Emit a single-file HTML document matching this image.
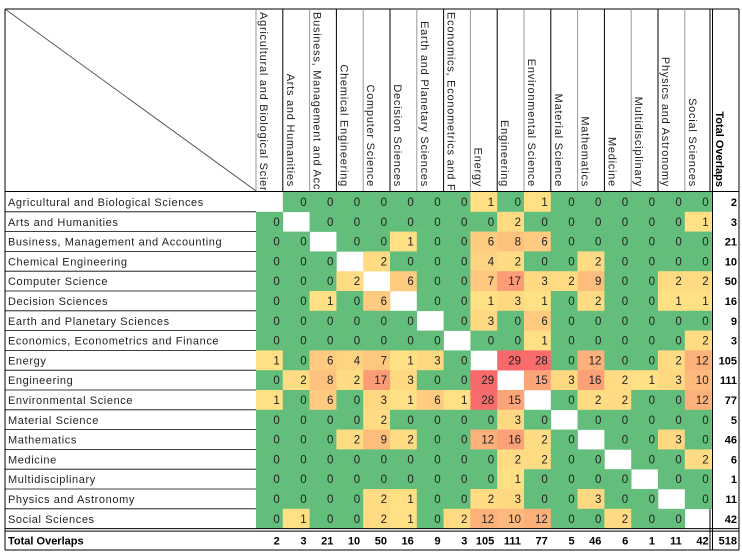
<!DOCTYPE html>
<html><head><meta charset="utf-8"><style>
html,body{margin:0;padding:0;background:#fff;}
svg{display:block;font-family:"Liberation Sans",sans-serif;}
</style></head><body>
<svg id="chart" width="742" height="553" viewBox="0 0 742 553">
<defs><clipPath id="hclip"><rect x="256" y="9" width="456" height="181"/></clipPath></defs>
<g id="g"></g>
</svg>
<script>
const categories=["Agricultural and Biological Sciences","Arts and Humanities","Business, Management and Accounting","Chemical Engineering","Computer Science","Decision Sciences","Earth and Planetary Sciences","Economics, Econometrics and Finance","Energy","Engineering","Environmental Science","Material Science","Mathematics","Medicine","Multidisciplinary","Physics and Astronomy","Social Sciences"];
const r0=[null,0,0,0,0,0,0,0,1,0,1,0,0,0,0,0,0];
const r1=[0,null,0,0,0,0,0,0,0,2,0,0,0,0,0,0,1];
const r2=[0,0,null,0,0,1,0,0,6,8,6,0,0,0,0,0,0];
const r3=[0,0,0,null,2,0,0,0,4,2,0,0,2,0,0,0,0];
const r4=[0,0,0,2,null,6,0,0,7,17,3,2,9,0,0,2,2];
const r5=[0,0,1,0,6,null,0,0,1,3,1,0,2,0,0,1,1];
const r6=[0,0,0,0,0,0,null,0,3,0,6,0,0,0,0,0,0];
const r7=[0,0,0,0,0,0,0,null,0,0,1,0,0,0,0,0,2];
const r8=[1,0,6,4,7,1,3,0,null,29,28,0,12,0,0,2,12];
const r9=[0,2,8,2,17,3,0,0,29,null,15,3,16,2,1,3,10];
const r10=[1,0,6,0,3,1,6,1,28,15,null,0,2,2,0,0,12];
const r11=[0,0,0,0,2,0,0,0,0,3,0,null,0,0,0,0,0];
const r12=[0,0,0,2,9,2,0,0,12,16,2,0,null,0,0,3,0];
const r13=[0,0,0,0,0,0,0,0,0,2,2,0,0,null,0,0,2];
const r14=[0,0,0,0,0,0,0,0,0,1,0,0,0,0,null,0,0];
const r15=[0,0,0,0,2,1,0,0,2,3,0,0,3,0,0,null,0];
const r16=[0,1,0,0,2,1,0,2,12,10,12,0,0,2,0,0,null];
const rows=[r0,r1,r2,r3,r4,r5,r6,r7,r8,r9,r10,r11,r12,r13,r14,r15,r16];
const rowTotals=[2,3,21,10,50,16,9,3,105,111,77,5,46,6,1,11,42];
const colTotals=[2,3,21,10,50,16,9,3,105,111,77,5,46,6,1,11,42];
const grandTotal=518;

const NS="http://www.w3.org/2000/svg";
const g=document.getElementById('g');
const X0=256,CW=26.8,Y0=192,RH=19.8,N=categories.length;
const colX=i=>X0+i*CW, rowY=i=>Y0+i*RH;
const vmax=29;
function color(v){
  if(v===0) return "#63BE7B";
  const t=Math.min(1,(v-1)/(vmax-1));
  const a=[255,224,132],b=[248,105,107];
  return "rgb("+a.map((c,k)=>Math.round(c+(b[k]-c)*t)).join(",")+")";
}
function el(tag,attrs,parent){const e=document.createElementNS(NS,tag);for(const k in attrs)e.setAttribute(k,attrs[k]);(parent||g).appendChild(e);return e;}

const hdr=el('g',{});


el('line',{x1:5,y1:9,x2:739,y2:9,stroke:"#000","stroke-width":1},hdr);
el('line',{x1:5,y1:9,x2:256,y2:191,stroke:"#555","stroke-width":1},hdr);
el('line',{x1:5,y1:9,x2:5,y2:550,stroke:"#000","stroke-width":1},hdr);
const hc=el('g',{"clip-path":"url(#hclip)"},hdr);
categories.forEach((c,i)=>{
  el('line',{x1:colX(i),y1:9,x2:colX(i),y2:191,stroke:(i%2? "#000":"#999"),"stroke-width":1},hdr);
  const t=el('text',{x:0,y:0,"font-size":"11","letter-spacing":"0.75",fill:"#222"},hc);
  
  
  t.textContent=c;
  const len=t.getComputedTextLength();
  if(len>176){
    t.setAttribute('text-anchor','start');
    t.setAttribute('transform',"translate("+(colX(i)+4)+",12) rotate(90)");
  } else {
    t.setAttribute('text-anchor','end');
    t.setAttribute('transform',"translate("+(colX(i)+4)+",187) rotate(90)");
  }
});
el('line',{x1:710,y1:9,x2:710,y2:550,stroke:"#000","stroke-width":1},hdr);
el('line',{x1:712.5,y1:9,x2:712.5,y2:550,stroke:"#000","stroke-width":1},hdr);
el('line',{x1:739,y1:9,x2:739,y2:550,stroke:"#000","stroke-width":1},hdr);
const tt=el('text',{x:0,y:0,transform:"translate(716,187) rotate(90)","text-anchor":"end","font-size":"11","font-weight":"bold",fill:"#000"},hdr);


tt.textContent="Total Overlaps";
el('line',{x1:5,y1:191.5,x2:739,y2:191.5,stroke:"#000","stroke-width":1},hdr);

rows.forEach((row,r)=>{
  const y=rowY(r);
  const lab=el('text',{x:8,y:y+14,"font-size":"11","letter-spacing":"0.6",fill:"#222"});
  
  
  lab.textContent=categories[r];
  if(r>0) el('line',{x1:5,y1:y,x2:256,y2:y,stroke:"#000","stroke-width":0.8});
  row.forEach((v,c)=>{
    if(v===null) return;
    const rc=el('rect',{x:colX(c),y:y,width:CW+0.3,height:RH+0.3,fill:color(v)});
    
    
    const t=el('text',{x:colX(c)+CW-3,y:y+14,"text-anchor":"end","font-size":"11.5",fill:"#222"});
    
    
    t.textContent=v;
  });
  const tv=el('text',{x:737,y:y+14,"text-anchor":"end","font-size":"11","font-weight":"bold",fill:"#000"});
  
  
  tv.textContent=rowTotals[r];
});
const yb=rowY(N);
el('line',{x1:5,y1:yb,x2:739,y2:yb,stroke:"#000","stroke-width":1});
el('line',{x1:5,y1:yb+2.5,x2:739,y2:yb+2.5,stroke:"#000","stroke-width":1});
el('line',{x1:5,y1:550,x2:739,y2:550,stroke:"#000","stroke-width":1});
const tl=el('text',{x:8,y:yb+16,"font-size":"11","font-weight":"bold",fill:"#000"});


tl.textContent="Total Overlaps";
colTotals.forEach((v,c)=>{
  const t=el('text',{x:colX(c)+CW-3,y:yb+16,"text-anchor":"end","font-size":"11","font-weight":"bold",fill:"#000"});
  
  
  t.textContent=v;
});
const gt=el('text',{x:737,y:yb+16,"text-anchor":"end","font-size":"11","font-weight":"bold",fill:"#000"});


gt.textContent=grandTotal;
</script>
</body></html>
